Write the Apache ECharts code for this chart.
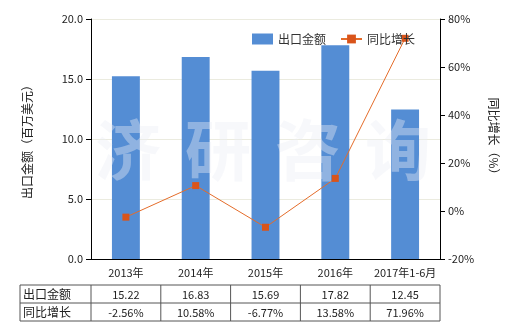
<!DOCTYPE html>
<html><head><meta charset="utf-8">
<script src="https://cdn.jsdelivr.net/npm/echarts@6/dist/echarts.min.js"></script>
<style>html,body{margin:0;padding:0;background:#fff}#c{width:520px;height:330px}</style>
</head><body><div id="c"></div>
<script>
var categories = ['2013年','2014年','2015年','2016年','2017年1-6月'];
var exportValues = [15.22, 16.83, 15.69, 17.82, 12.45];
var growthValues = [-2.56, 10.58, -6.77, 13.58, 71.96];
var rowLabels = ['出口金额','同比增长'];
var leftTicks = {min:0, max:20, interval:5};
var rightTicks = {min:-20, max:80, interval:20};
var FONT = '"Noto Sans CJK SC", sans-serif';

var chart = echarts.init(document.getElementById('c'));
var option = {
  animation:false,
  textStyle:{fontFamily:FONT},
  grid:{left:91,right:80,top:19,bottom:71},
  legend:{
    right:100, top:28, itemGap:14, itemWidth:21, itemHeight:11,
    textStyle:{fontSize:12,color:'#333',fontFamily:FONT},
    data:[{name:'出口金额',icon:'rect'},{name:'同比增长'}]
  },
  xAxis:{
    type:'category', data:categories,
    axisLine:{lineStyle:{color:'#000'}},
    axisTick:{alignWithLabel:true,lineStyle:{color:'#000'}},
    axisLabel:{interval:0,color:'#222',fontSize:11,margin:8,fontFamily:FONT}
  },
  yAxis:[{
    type:'value', min:leftTicks.min, max:leftTicks.max, interval:leftTicks.interval,
    name:'出口金额（百万美元）', nameLocation:'middle', nameGap:58, nameRotate:90,
    nameTextStyle:{fontSize:12,color:'#222',fontFamily:FONT},
    axisLine:{show:true,lineStyle:{color:'#000'}},
    axisTick:{show:true,lineStyle:{color:'#000'}},
    axisLabel:{formatter:function(v){return v.toFixed(1);},color:'#222',fontSize:11,fontFamily:FONT},
    splitLine:{show:true,lineStyle:{color:'#ebebdf'}}
  },{
    type:'value', min:rightTicks.min, max:rightTicks.max, interval:rightTicks.interval,
    name:'同比增长（%）', nameLocation:'middle', nameGap:48, nameRotate:-90,
    nameTextStyle:{fontSize:12,color:'#222',fontFamily:FONT},
    axisLine:{show:true,lineStyle:{color:'#000'}},
    axisTick:{show:true,lineStyle:{color:'#000'}},
    axisLabel:{formatter:'{value}%',color:'#222',fontSize:11,fontFamily:FONT},
    splitLine:{show:false}
  }],
  series:[{
    name:'出口金额', type:'bar', data:exportValues, barWidth:'40%',
    itemStyle:{color:'#548dd4'}
  },{
    name:'同比增长', type:'line', yAxisIndex:1, data:growthValues,
    symbol:'rect', symbolSize:7,
    lineStyle:{color:'#e46c2a',width:1},
    itemStyle:{color:'#d9541a'}
  }]
};
chart.setOption(option);

// table + watermark
var g = [];
var xs = categories.map(function(c){return chart.convertToPixel({xAxisIndex:0}, c);});
var step = xs.length>1 ? xs[1]-xs[0] : 70;
var tableTop = 285, rowH = 18;
var x0 = 20, x1 = xs[0]-step/2, xEnd = xs[xs.length-1]+step/2;
var lineColor = '#555';
for (var r=0;r<=rowLabels.length;r++){
  g.push({type:'line',shape:{x1:x0,y1:tableTop+r*rowH,x2:xEnd,y2:tableTop+r*rowH},style:{stroke:lineColor,lineWidth:1}});
}
var vx = [x0, x1];
xs.forEach(function(x){vx.push(x+step/2);});
vx.forEach(function(x){
  g.push({type:'line',shape:{x1:x,y1:tableTop,x2:x,y2:tableTop+rowH*rowLabels.length},style:{stroke:lineColor,lineWidth:1}});
});
var rows = [exportValues.map(function(v){return v.toFixed(2);}), growthValues.map(function(v){return v.toFixed(2)+'%';})];
rowLabels.forEach(function(lbl,i){
  g.push({type:'text',x:x0+3,y:tableTop+i*rowH+rowH/2,style:{text:lbl,fill:'#222',font:'12px '+FONT,textVerticalAlign:'middle',verticalAlign:'middle'}});
  rows[i].forEach(function(t,j){
    g.push({type:'text',x:xs[j],y:tableTop+i*rowH+rowH/2+1,style:{text:t,fill:'#222',font:'11px '+FONT,textAlign:'center',align:'center',verticalAlign:'middle',textVerticalAlign:'middle'}});
  });
});
var wm = ['济','研','咨','询'];
wm.forEach(function(ch,i){
  g.push({type:'text',z:100,x:128+i*90,y:150,style:{text:ch,fill:'rgba(235,238,245,0.4)',font:'bold 66px '+FONT,align:'center',textAlign:'center',verticalAlign:'middle',textVerticalAlign:'middle'}});
});
chart.setOption({graphic:g});
</script></body></html>
